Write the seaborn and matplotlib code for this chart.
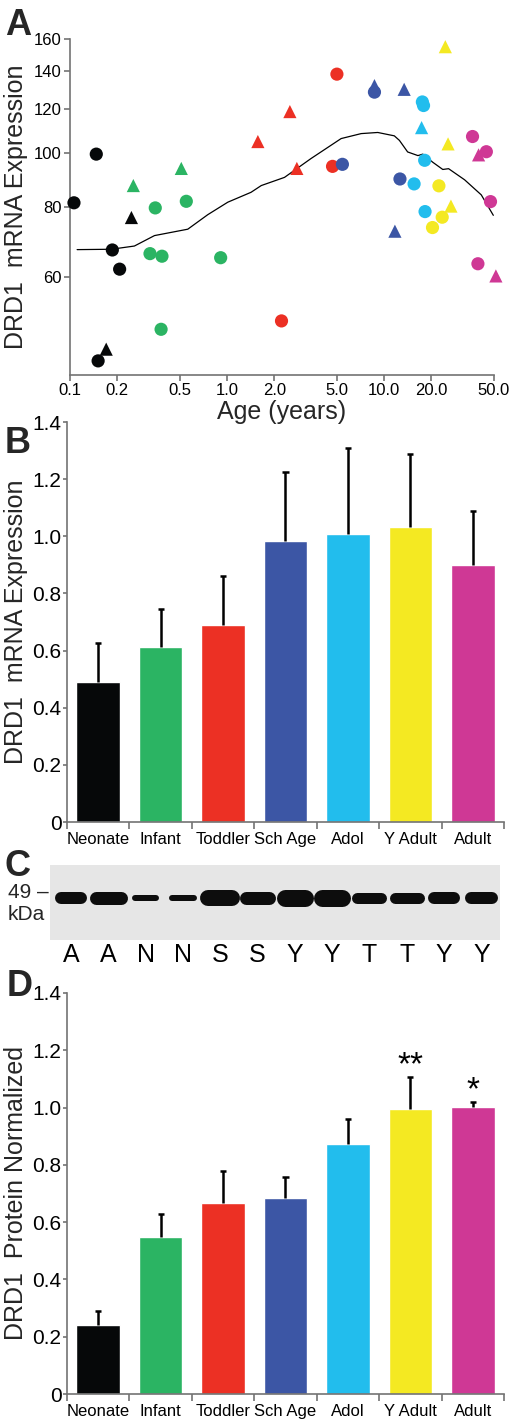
import numpy as np
import pandas as pd
import matplotlib
matplotlib.use("Agg")
import matplotlib.pyplot as plt
import seaborn as sns

groups = ["Neonate", "Infant", "Toddler", "Sch Age", "Adol", "Y Adult", "Adult"]
colors = ["#060809", "#2bb463", "#ec3024", "#3c56a5", "#22bded", "#f4e922", "#cf3895"]

# panel A: individual samples (age in years, expression, group, marker)
age = [0.106, 0.147, 0.186, 0.207, 0.151, 0.246, 0.170,
       0.349, 0.550, 0.323, 0.385, 0.910, 0.380, 0.253, 0.511,
       1.57, 2.51, 2.78, 5.00, 4.69, 2.22,
       5.42, 8.67, 8.67, 13.4, 12.6, 11.7,
       17.5, 17.8, 17.3, 18.1, 15.5, 18.2,
       24.5, 25.5, 22.3, 26.6, 23.4, 20.3,
       36.5, 44.7, 39.9, 47.5, 39.5, 51.4]
expr = [81.4, 99.5, 67.0, 61.9, 42.4, 76.6, 44.5,
        79.7, 81.9, 66.0, 65.3, 64.9, 48.3, 87.4, 93.8,
        104.8, 118.6, 93.8, 138.4, 94.6, 50.0,
        95.4, 128.5, 132.0, 130.0, 89.8, 72.4,
        123.4, 121.6, 111.0, 97.0, 88.0, 78.5,
        155.0, 103.8, 87.3, 80.3, 76.7, 73.5,
        107.0, 100.5, 99.2, 81.8, 63.3, 60.2]
group = (["Neonate"] * 7 + ["Infant"] * 8 + ["Toddler"] * 6 + ["Sch Age"] * 6
         + ["Adol"] * 6 + ["Y Adult"] * 6 + ["Adult"] * 6)
shape = ["o", "o", "o", "o", "o", "^", "^",
         "o", "o", "o", "o", "o", "o", "^", "^",
         "^", "^", "^", "o", "o", "o",
         "o", "o", "^", "^", "o", "^",
         "o", "o", "^", "o", "o", "o",
         "^", "^", "o", "^", "o", "o",
         "o", "o", "^", "o", "o", "^"]

# smoothed fit
fit_age = [0.111, 0.183, 0.257, 0.345, 0.562, 0.753, 1.01, 1.42, 1.65, 2.32, 3.42, 5.32,
           7.14, 9.1, 11.6, 12.5, 14.1, 16.4, 17.6, 20.4, 23.6, 25.7, 32.5, 41.5, 49.5]
fit_expr = [67.1, 67.2, 68.1, 71.1, 73.0, 77.5, 81.6, 85.0, 87.4, 90.4, 97.7, 106.1,
            108.3, 108.8, 107.3, 105.3, 100.4, 98.9, 99.5, 96.2, 93.4, 93.7, 89.5, 84.1, 77.3]

# panel B: mRNA means and SEM
mrna_mean = [0.490, 0.614, 0.691, 0.984, 1.008, 1.031, 0.898]
mrna_err = [0.136, 0.131, 0.171, 0.240, 0.300, 0.256, 0.190]

# panel C: western blot lanes
lane_labels = ["A", "A", "N", "N", "S", "S", "Y", "Y", "T", "T", "Y", "Y"]
band_width = [0.86, 1.02, 0.72, 0.75, 1.07, 0.99, 0.99, 0.99, 0.94, 0.94, 0.88, 0.88]
band_thick = [12, 13, 6, 6, 16, 13, 17, 17, 11, 11, 12, 12]

# panel D: protein means and SEM
prot_mean = [0.241, 0.547, 0.666, 0.685, 0.874, 0.996, 1.001]
prot_err = [0.049, 0.082, 0.112, 0.074, 0.086, 0.111, 0.019]
stars = ["", "", "", "", "", "**", "*"]

sns.set_style("ticks")
plt.rcParams['font.family'] = ['Liberation Sans', 'DejaVu Sans']
gray = "#737373"
plt.rcParams.update({
    'axes.edgecolor': gray, 'axes.linewidth': 1.2,
    'xtick.color': gray, 'ytick.color': gray,
    'xtick.labelcolor': 'black', 'ytick.labelcolor': 'black',
})

W, H = 509, 1425
fig = plt.figure(figsize=(W / 100, H / 100), dpi=100)


def add_ax(l, t, r, b):
    return fig.add_axes([l / W, 1 - b / H, (r - l) / W, (b - t) / H])


pal = dict(zip(groups, colors))

# ---- Panel A ----
axA = add_ax(70, 39, 494, 375)
dfA = pd.DataFrame({"age": age, "expr": expr, "group": group, "shape": shape})
sns.lineplot(x=fit_age, y=fit_expr, color="black", lw=0.9, ax=axA)
sns.scatterplot(data=dfA, x="age", y="expr", hue="group", style="shape",
                markers={"o": "o", "^": "^"}, palette=pal, s=90, linewidth=0,
                legend=False, ax=axA, clip_on=False, zorder=3)
axA.set_xscale("log")
axA.set_yscale("log")
axA.set_xlim(0.1, 50)
axA.set_ylim(40, 160)
xt = [0.1, 0.2, 0.5, 1, 2, 5, 10, 20, 50]
axA.set_xticks(xt)
axA.set_xticklabels(["0.1", "0.2", "0.5", "1.0", "2.0", "5.0", "10.0", "20.0", "50.0"])
yt = [60, 80, 100, 120, 140, 160]
axA.set_yticks(yt)
axA.set_yticklabels([str(v) for v in yt])
axA.minorticks_off()
axA.tick_params(labelsize=12, length=4, width=1.2, pad=2)
axA.set_xlabel("Age (years)", fontsize=18, labelpad=1)
axA.set_ylabel("DRD1  mRNA Expression", fontsize=18, labelpad=4)
sns.despine(ax=axA)


def bar_panel(ax, means, errs, ylabel):
    sns.barplot(x=groups, y=means, hue=groups, palette=pal, width=0.7,
                legend=False, ax=ax, saturation=1)
    x = np.arange(len(groups))
    ax.vlines(x, means, np.array(means) + np.array(errs), color="black", lw=1.8, zorder=4)
    ax.hlines(np.array(means) + np.array(errs), x - 0.05, x + 0.05, color="black", lw=1.8, zorder=4)
    ax.set_xlim(-0.5, 6.5)
    ax.set_ylim(0, 1.4)
    ax.set_yticks(np.arange(0, 1.41, 0.2))
    ax.set_yticklabels(["0", "0.2", "0.4", "0.6", "0.8", "1.0", "1.2", "1.4"])
    ax.set_xticks(x)
    ax.set_xticks(np.arange(-0.5, 7, 1), minor=True)
    ax.tick_params(axis="x", which="major", length=0, labelsize=12, pad=7)
    ax.tick_params(axis="x", which="minor", length=5, width=1.2)
    ax.tick_params(axis="y", labelsize=15, length=3, width=1.2, pad=1)
    ax.set_ylabel(ylabel, fontsize=18, labelpad=3)
    ax.set_xlabel("")
    ax.patch.set_alpha(0)
    sns.despine(ax=ax)


# ---- Panel B ----
axB = add_ax(67, 422, 504, 822)
bar_panel(axB, mrna_mean, mrna_err, "DRD1  mRNA Expression")

# ---- Panel C ----
axC = add_ax(50, 865, 500, 940)
axC.set_facecolor("#e6e6e6")
lanes = np.arange(len(lane_labels))
step_px = 37.3
for i, (w, t) in enumerate(zip(band_width, band_thick)):
    half = w / 2 - (t / 2) / step_px
    axC.plot([lanes[i] - half, lanes[i] + half], [42.3, 42.3], color="#0d0d0d",
             lw=t / 1.389, solid_capstyle="round")
axC.set_xlim(-0.563, 11.5)
axC.set_ylim(0, 75)
axC.set_xticks(lanes)
axC.set_xticklabels(lane_labels, fontsize=18)
axC.tick_params(axis="x", length=0, pad=2)
axC.set_yticks([])
for s in axC.spines.values():
    s.set_visible(False)
fig.text(8 / W, 1 - 893 / H, "49 \u2013", fontsize=15, va="center", ha="left")
fig.text(8 / W, 1 - 915 / H, "kDa", fontsize=15, va="center", ha="left")

# ---- Panel D ----
axD = add_ax(67, 993, 504, 1394)
bar_panel(axD, prot_mean, prot_err, "DRD1  Protein Normalized")
for i, s in enumerate(stars):
    if s:
        axD.text(i, prot_mean[i] + prot_err[i] + 0.008, s, ha="center", va="baseline",
                 fontsize=24, color="black")

# panel letters
for letter, xp, yp in [("A", 5, 8), ("B", 5, 426), ("C", 5, 849), ("D", 7, 969)]:
    fig.text(xp / W, 1 - yp / H, letter, fontsize=26, fontweight="bold", va="top", ha="left")

fig.savefig("out.png", dpi=100)
